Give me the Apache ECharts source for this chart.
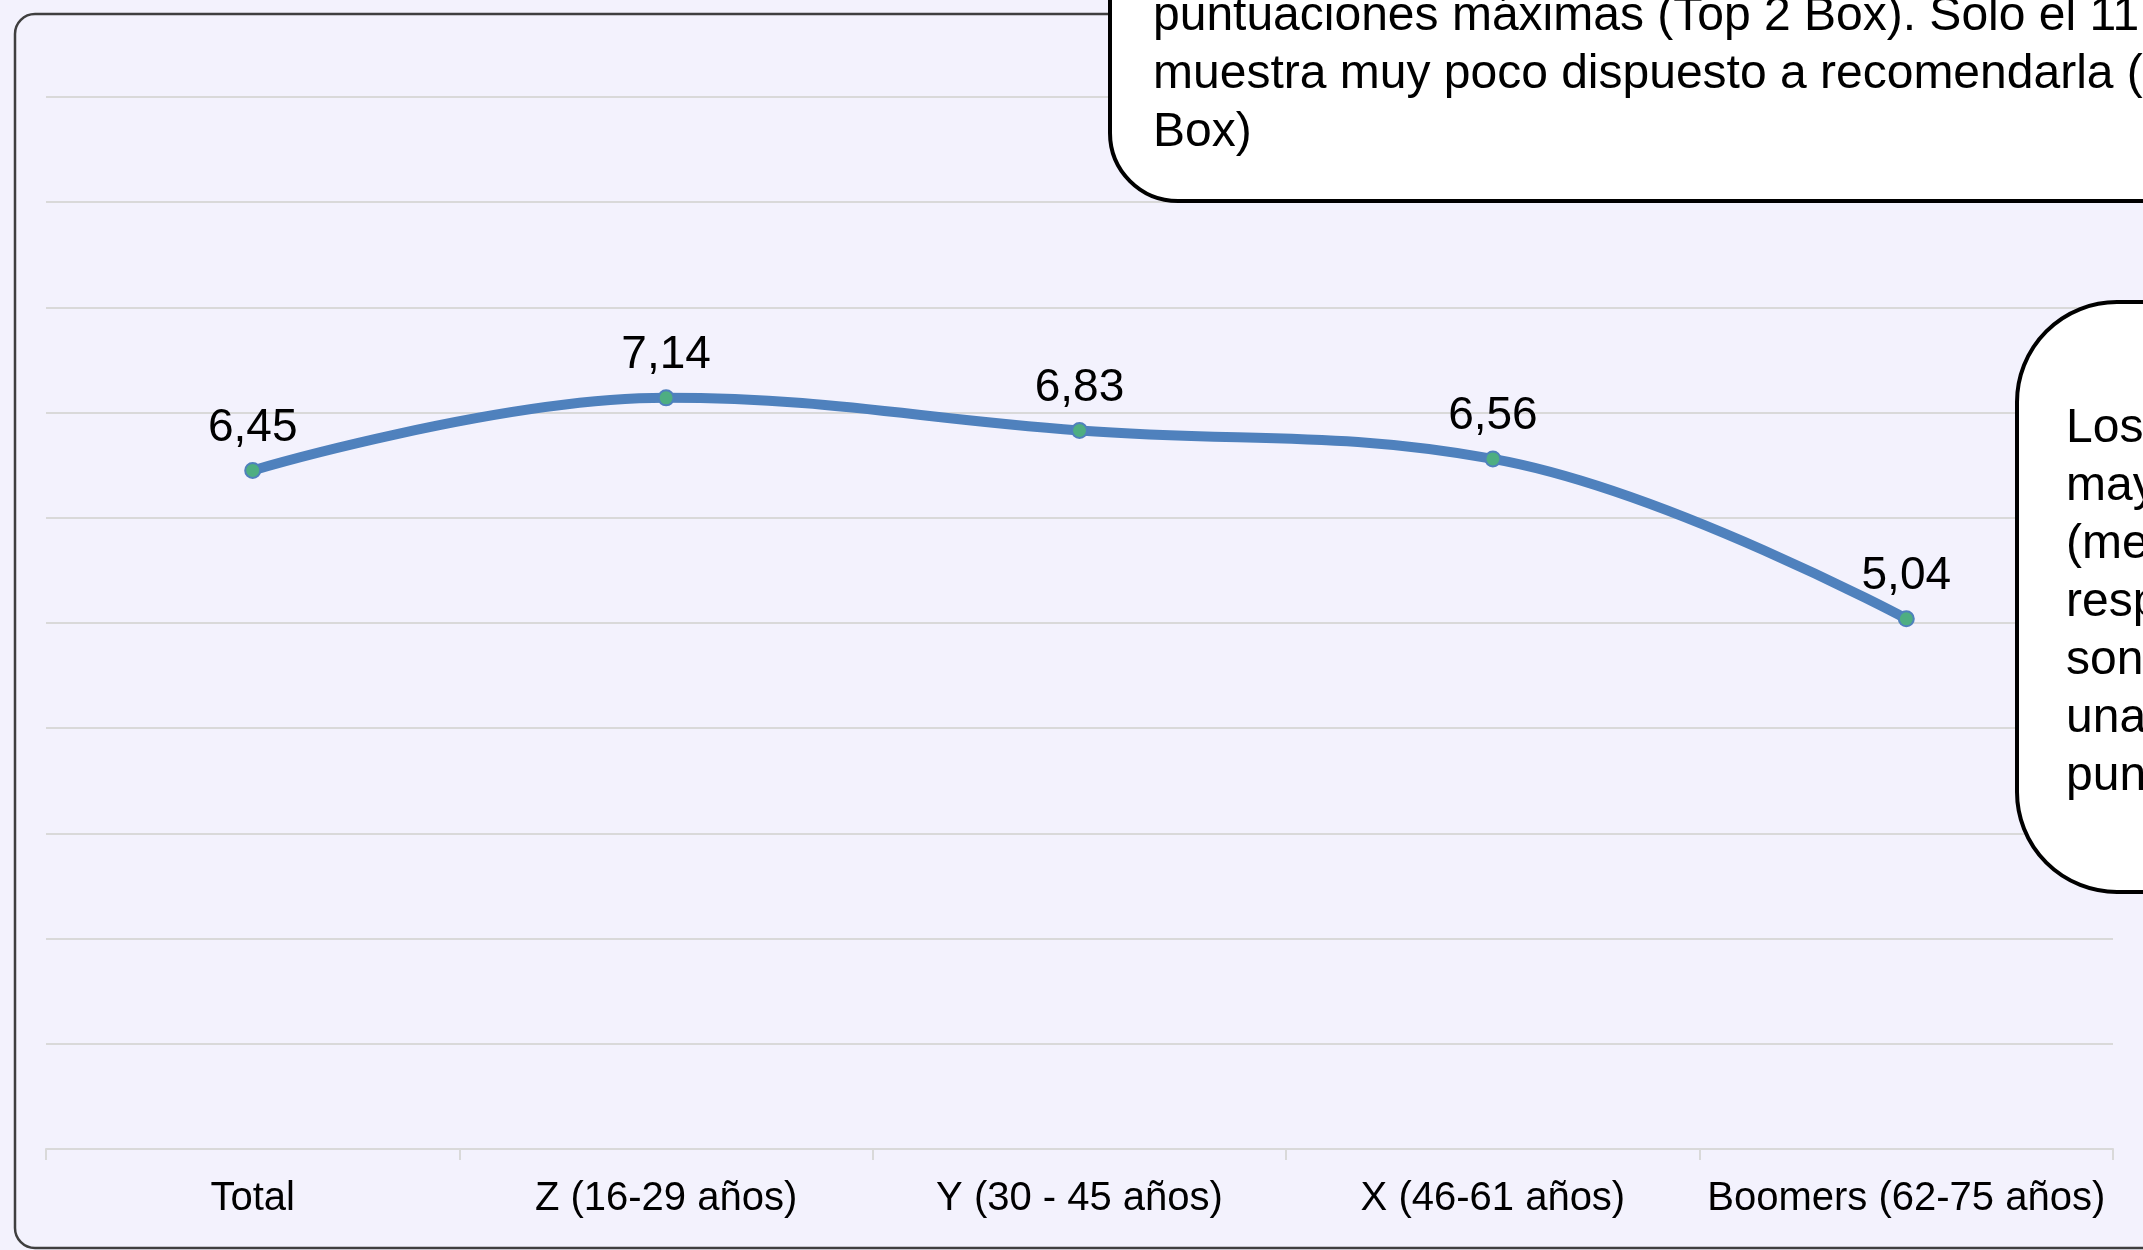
<!DOCTYPE html>
<html>
<head>
<meta charset="utf-8">
<title>Recomendación por generación</title>
<script src="https://cdn.jsdelivr.net/npm/echarts@6/dist/echarts.min.js"></script>
<style>
  html, body { margin: 0; padding: 0; background: #F3F2FD; }
  #chart { width: 2143px; height: 1250px; }
</style>
</head>
<body>
<div id="chart"></div>
<script>
// Generational groups and their mean scores
const categories = ['Total', 'Z (16-29 años)', 'Y (30 - 45 años)', 'X (46-61 años)', 'Boomers (62-75 años)'];
const scores = [6.45, 7.14, 6.83, 6.56, 5.04];

// Value axis range (gridlines only, labels hidden)
const yMin = 0;
const yMax = 10;
const yStep = 1;

// Callout texts (as visible within the frame)
const noteTop = [
  'puntuaciones máximas (Top 2 Box). Solo el 11,',
  'muestra muy poco dispuesto a recomendarla (',
  'Box)'
];
const noteRight = ['Los', 'may', '(me', 'resp', 'son', 'una', 'pun'];

const FONT = "'Liberation Sans', Arial, sans-serif";

const chart = echarts.init(document.getElementById('chart'), null, { renderer: 'canvas' });

function noteLines(lines, x, firstY, step) {
  return lines.map((t, i) => ({
    type: 'text',
    z: 110,
    silent: true,
    style: {
      text: t,
      x: x,
      y: firstY + i * step,
      font: '48px ' + FONT,
      fill: '#000',
      align: 'left',
      verticalAlign: 'middle'
    }
  }));
}

const option = {
  backgroundColor: '#F3F2FD',
  animation: false,
  grid: { left: 46, right: 30, top: 97, bottom: 101, containLabel: false },
  xAxis: {
    type: 'category',
    data: categories,
    boundaryGap: true,
    axisLine: { show: true, lineStyle: { color: '#D9D9D9', width: 2 } },
    axisTick: { show: true, interval: 0, length: 11, lineStyle: { color: '#D9D9D9', width: 2 } },
    axisLabel: { interval: 0, color: '#000', fontSize: 40, fontFamily: FONT, margin: 30 }
  },
  yAxis: {
    type: 'value',
    min: yMin,
    max: yMax,
    interval: yStep,
    axisLine: { show: false },
    axisTick: { show: false },
    axisLabel: { show: false },
    splitLine: { show: true, lineStyle: { color: '#D9D9D9', width: 2 } }
  },
  series: [{
    type: 'line',
    data: scores,
    smooth: 0.4,
    symbol: 'circle',
    symbolSize: 15,
    lineStyle: { color: '#4F81BD', width: 10 },
    itemStyle: { color: '#4EAE82', borderColor: '#4F81BD', borderWidth: 2 },
    label: {
      show: true,
      position: 'top',
      distance: 11,
      color: '#000',
      fontSize: 46,
      fontFamily: FONT,
      formatter: p => p.value.toFixed(2).replace('.', ',')
    },
    z: 5
  }],
  graphic: [
    // outer frame
    {
      type: 'rect', z: 1, silent: true,
      shape: { x: 15, y: 14, width: 2400, height: 1234, r: 20 },
      style: { fill: 'none', stroke: '#3F3F3F', lineWidth: 2.5 }
    },
    // upper callout
    {
      type: 'rect', z: 100, silent: true,
      shape: { x: 1110, y: -400, width: 1300, height: 601, r: 68 },
      style: { fill: '#FFFFFF', stroke: '#000000', lineWidth: 4 }
    },
    // right callout
    {
      type: 'rect', z: 100, silent: true,
      shape: { x: 2017, y: 302, width: 400, height: 590, r: 100 },
      style: { fill: '#FFFFFF', stroke: '#000000', lineWidth: 4 }
    }
  ].concat(noteLines(noteTop, 1153, 17, 58))
   .concat(noteLines(noteRight, 2066, 429, 58))
};

chart.setOption(option);
</script>
</body>
</html>
